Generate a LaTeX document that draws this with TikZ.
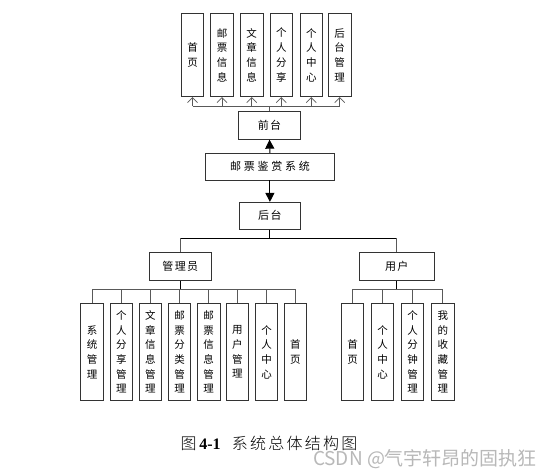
\documentclass[tikz,border=0pt]{standalone}
\usepackage{fontspec}
\newfontfamily\cjk{Noto Sans CJK SC}
\newfontfamily\cjkls{Noto Sans CJK SC}[LetterSpace=12]
\newfontfamily\cjkwide{Noto Sans CJK SC}[LetterSpace=25]
\newfontfamily\cjkcap{Noto Sans CJK SC Light}[LetterSpace=14]
\newfontfamily\capserif{Liberation Serif}
\usetikzlibrary{arrows.meta}
\tikzset{
  box/.style={draw=black!80, line width=0.8pt, fill=white, inner sep=0pt},
  vbox/.style={box, minimum width=22.5pt, align=center, font=\cjk\fontsize{10.5}{14.7}\selectfont},
  hbox/.style={box, minimum height=27.5pt, font=\cjkls\fontsize{11}{13}\selectfont},
  conn/.style={draw=black!65, line width=0.8pt},
  openarr/.style={conn, -{Straight Barb[length=5pt,width=10pt,line width=0.7pt]}},
  bigarr/.style={draw=black, line width=1pt, -{Triangle[length=9pt,width=9pt]}},
}
\begin{document}
\begin{tikzpicture}[x=1pt,y=-1pt]
\useasboundingbox (0,0) rectangle (556,474);
\fill[white] (0,0) rectangle (556,474);
% top boxes
\foreach \n/\x/\t in {t1/192.5/{首\\页}, t2/222/{邮\\票\\信\\息}, t3/251.7/{文\\章\\信\\息}, t4/281.3/{个\\人\\分\\享}, t5/311.3/{个\\人\\中\\心}, t6/339.7/{后\\台\\管\\理}}
  \node[vbox, minimum height=83.4pt] (\n) at (\x,55) {\t};
\node[hbox, minimum width=62.4pt] (qt) at (269.5,125.5) {前台};
\node[box, minimum width=128.3pt, minimum height=26.7pt, font=\cjkwide\fontsize{11}{13}\selectfont] (sys) at (269.9,166.7) {邮票鉴赏系统};
\node[hbox, minimum width=61.7pt, minimum height=27pt] (ht) at (269.9,215.8) {后台};
\node[hbox, minimum width=62.7pt, minimum height=28pt] (gly) at (180.3,266.7) {管理员};
\node[hbox, minimum width=75pt, minimum height=28pt] (yh) at (396.8,266.8) {用户};
% admin boxes
\foreach \n/\x/\t in {a1/92/{系\\统\\管\\理}, a2/121.3/{个\\人\\分\\享\\管\\理}, a3/150.3/{文\\章\\信\\息\\管\\理}, a4/179.5/{邮\\票\\分\\类\\管\\理}, a5/208.7/{邮\\票\\信\\息\\管\\理}, a6/237.3/{用\\户\\管\\理}, a7/266.5/{个\\人\\中\\心}, a8/295.3/{首\\页}}
  \node[vbox, minimum height=97.4pt] (\n) at (\x,352) {\t};
\foreach \n/\x/\t in {u1/352.5/{首\\页}, u2/382.5/{个\\人\\中\\心}, u3/412.5/{个\\人\\分\\钟\\管\\理}, u4/442.8/{我\\的\\收\\藏\\管\\理}}
  \node[vbox, minimum height=97.4pt] (\n) at (\x,352) {\t};
% connectors top
\coordinate (busT) at (269.5,106);
\draw[conn] (t1.south |- busT) -- (t6.south |- busT);
\draw[conn] (qt.north) -- (busT);
\foreach \n in {t1,t2,t3,t4,t5,t6} \draw[openarr] (\n.south |- busT) -- (\n.south);
\draw[bigarr] (sys.north) -- (qt.south);
\draw[bigarr] (sys.south) -- (ht.north);
% second level
\coordinate (busM) at (269.9,238);
\draw[line width=1pt] (ht.south) -- (busM);
\draw[line width=1pt] (gly.north |- busM) -- (yh.north |- busM);
\draw[conn] (gly.north |- busM) -- (gly.north);
\draw[conn] (yh.north |- busM) -- (yh.north);
% admin bus
\coordinate (busA) at (180.3,289.3);
\draw[line width=1.2pt] (gly.south) -- (busA);
\draw[conn] (a1.north |- busA) -- (a8.north |- busA);
\foreach \n in {a1,a2,a3,a4,a5,a6,a7,a8} \draw[conn] (\n.north |- busA) -- (\n.north);
% user bus
\coordinate (busU) at (396.8,289.3);
\draw[line width=1.2pt] (yh.south) -- (busU);
\draw[conn] (u1.north |- busU) -- (u4.north |- busU);
\foreach \n in {u1,u2,u3,u4} \draw[conn] (\n.north |- busU) -- (\n.north);
% caption
\node[font=\fontsize{16}{18}\selectfont, inner sep=0pt] (cap) at (269,443) {\cjkcap 图\,{\capserif\bfseries 4-1}\hspace{0.7em}系统总体结构图};
\node[font=\cjk\fontsize{19}{21}\selectfont, text=black!28, inner sep=0pt] (wm) at (425,459) {CSDN @气宇轩昂的固执狂};
\end{tikzpicture}
\end{document}
